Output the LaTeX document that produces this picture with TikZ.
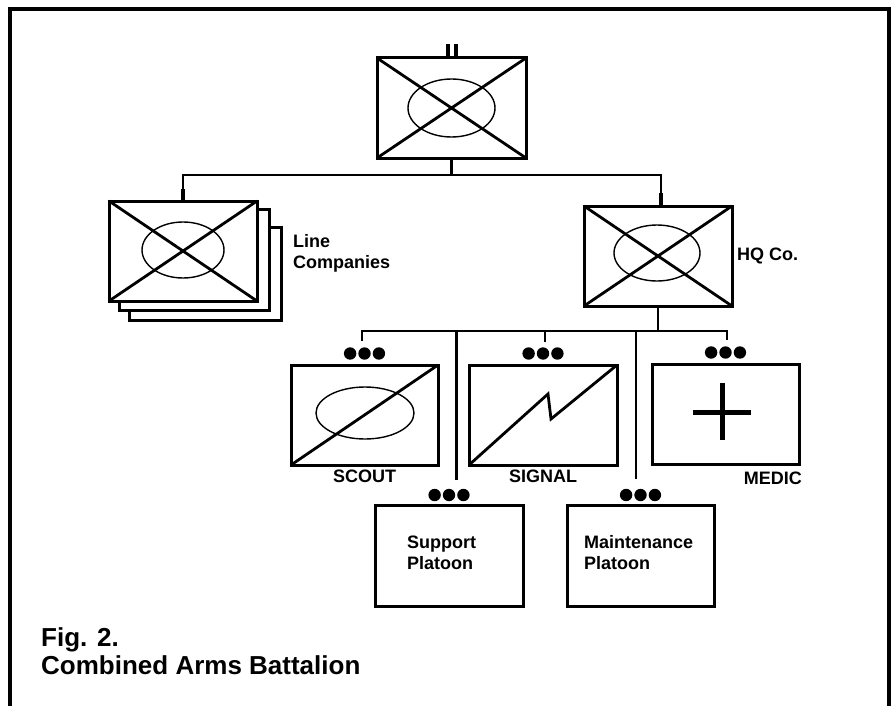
\documentclass[tikz,border=0pt]{standalone}
\usepackage{fontspec}
\setmainfont{Liberation Sans}
\usetikzlibrary{positioning,calc}
\begin{document}
\begin{tikzpicture}[x=1pt, y=-1pt,
unit/.style = {draw, fill=white, line width=3pt, minimum width=148pt, minimum height=100pt, inner sep=0pt, outer sep=0pt},
link/.style = {line width=2.5pt},
oval/.style = {line width=1.4pt},
cross/.style = {line width=2.8pt},
bar/.style = {fill, minimum width=4pt, minimum height=12pt, inner sep=0pt, outer sep=0pt},
lbl/.style = {font=\bfseries\fontsize{18}{21}\selectfont, inner sep=0pt, align=left},
figtext/.style = {font=\bfseries\fontsize{26}{30}\selectfont, inner sep=0pt}]
    \useasboundingbox (0,0) rectangle (891,706);
    \draw[line width=4pt] (10,706) -- (10,9) -- (889,9) -- (889,706);

    \node[unit, minimum width=149pt] (bn) at (451.5,108) {};
    \node[bar, minimum height=14pt] (bnIa) at (447.5,51) {};
    \node[bar, minimum height=14pt] (bnIb) at (455.5,51) {};

    \node[unit, minimum width=152pt, minimum height=93pt] (lc3) at (205,273.5) {};
    \node[unit, minimum width=150pt, minimum height=101pt] (lc2) at (194,259.5) {};
    \node[unit] (lc) at (183,251) {};
    \node[bar] (lcI) at (183,195) {};
    \node[lbl, anchor=west] (lclbl) at (293,253.5) {Line\\Companies};

    \node[unit] (hq) at (658,256) {};
    \node[bar, minimum height=13pt] (hqI) at (661,199.5) {};
    \node[lbl, right=5pt of hq] (hqlbl) {HQ Co.};

    \node[unit, minimum width=147pt] (scout) at (364.5,415) {};
    \node[unit] (signal) at (543,415) {};
    \node[unit, minimum width=147pt] (medic) at (725.5,414) {};
    \node[unit, minimum height=101pt] (supp) at (449,555.5) {};
    \node[unit, minimum width=147pt, minimum height=101pt] (maint) at (640.5,555.5) {};

    \draw[oval] (bn.center) ellipse (43.5pt and 29pt);
    \draw[cross] (bn.north west) -- (bn.south east) (bn.south west) -- (bn.north east);
    \draw[oval] ($(lc.center)+(0,-1)$) ellipse (41pt and 28pt);
    \draw[cross] (lc.north west) -- (lc.south east) (lc.south west) -- (lc.north east);
    \draw[oval] ($(hq.center)+(-1,-3)$) ellipse (43pt and 28pt);
    \draw[cross] (hq.north west) -- (hq.south east) (hq.south west) -- (hq.north east);

    \draw[oval] ($(scout.center)+(0.5,-2)$) ellipse (49pt and 26pt);
    \draw[cross] (scout.south west) -- (scout.north east);
    \draw[cross] (signal.south west) -- ($(signal.center)+(5,-21)$) -- ($(signal.center)+(8,4)$) -- (signal.north east);
    \draw[line width=5pt] ($(medic.center)+(-32.5,-2)$) -- ($(medic.center)+(25.5,-2)$)
        ($(medic.center)+(-3.5,-31)$) -- ($(medic.center)+(-3.5,26)$);

    \node[lbl, below=5pt of scout] (scoutlbl) {SCOUT};
    \node[lbl, below=5pt of signal] (signallbl) {SIGNAL};
    \node[lbl, anchor=north east] (mediclbl) at ($(medic.south east)+(3,8)$) {MEDIC};
    \node[lbl, anchor=west] (supplbl) at (407,553) {Support\\Platoon};
    \node[lbl, anchor=west] (maintlbl) at (584,552.5) {Maintenance\\Platoon};

    \foreach \u in {scout,signal,medic}
        \foreach \dx in {-14.4,0,14.4}
            \fill ($(\u.north)+(\dx,-11.5)$) circle (6.2pt);
    \foreach \u in {supp,maint}
        \foreach \dx in {-14.4,0,14.4}
            \fill ($(\u.north)+(\dx,-10)$) circle (6.2pt);

    \coordinate (scoutup) at ($(scout.north)+(-2.5,-24)$);
    \coordinate (signalup) at ($(signal.north)+(2,-23)$);
    \coordinate (medicup) at ($(medic.north)+(1.5,-24)$);
    \coordinate (suppup) at ($(supp.north)+(7.5,-25)$);
    \coordinate (maintup) at ($(maint.north)+(-4.5,-26)$);

    \draw[link] (bn.south) -- ++(0,17) coordinate (bnbar);
    \draw[link] (lcI.north) |- (bnbar) -| (hqI.north);
    \draw[link] (hq.south) -- ++(0,25) coordinate (hqbar);
    \draw[link] (scoutup) |- (hqbar) -| (medicup);
    \draw[link] (signalup) -- (signalup |- hqbar);
    \draw[link] (suppup) -- (suppup |- hqbar);
    \draw[link] (maintup) -- (maintup |- hqbar);

    \node[figtext, anchor=base west] (fig) at (41,646.5) {Fig. 2.};
    \node[figtext, anchor=base west] (figname) at (41,674.5) {Combined Arms Battalion};
\end{tikzpicture}
\end{document}
